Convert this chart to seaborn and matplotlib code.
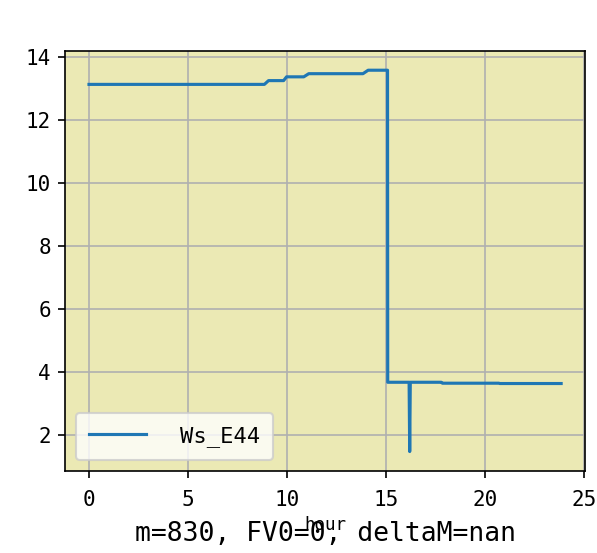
import pandas as pd
import matplotlib
matplotlib.use("Agg")
import matplotlib.pyplot as plt
import seaborn as sns

# -- Data -----------------------------------------------------
hour = [0.0, 8.86, 9.07, 9.83, 9.98, 10.85, 11.1, 13.84, 14.1, 15.08,
        15.09, 16.17, 16.2, 16.23, 17.8, 17.85, 20.7, 20.75, 23.85]
ws_e44 = [13.12, 13.12, 13.24, 13.24, 13.36, 13.36, 13.46, 13.46, 13.57, 13.57,
          3.66, 3.66, 1.46, 3.66, 3.66, 3.63, 3.63, 3.62, 3.62]
series_label = "Ws_E44"
note_text = "m=830, FV0=0, deltaM=nan"

plt.rcParams["font.family"] = ["DejaVu Sans Mono"]

df = pd.DataFrame({"hour": hour, "ws": ws_e44})

fig = plt.figure(figsize=(597 / 150, 553 / 150), dpi=150)
ax = fig.add_axes([0.1095, 0.149, 0.8700, 0.7585])
ax.set_facecolor("#EBE9B4")

sns.lineplot(data=df, x="hour", y="ws", estimator=None, sort=False,
             color="#1f77b4", linewidth=1.5, label=series_label, ax=ax)

ax.grid(True, color="#b0b0b0", linewidth=0.8)
ax.set_axisbelow(True)
ax.set_ylabel("")
ax.set_xlabel("hour", fontsize=8.4, labelpad=2.5)
ax.tick_params(labelsize=10)
ax.tick_params(axis="x", pad=6)

ax.legend(loc="lower left", fontsize=10.6, handlelength=2.6,
          handletextpad=1.5, borderaxespad=0.47, borderpad=0.6)

fig.text(0.5445, 12 / 553, note_text, ha="center", va="baseline",
         fontsize=12.7)

fig.savefig("out.png", dpi=150)
